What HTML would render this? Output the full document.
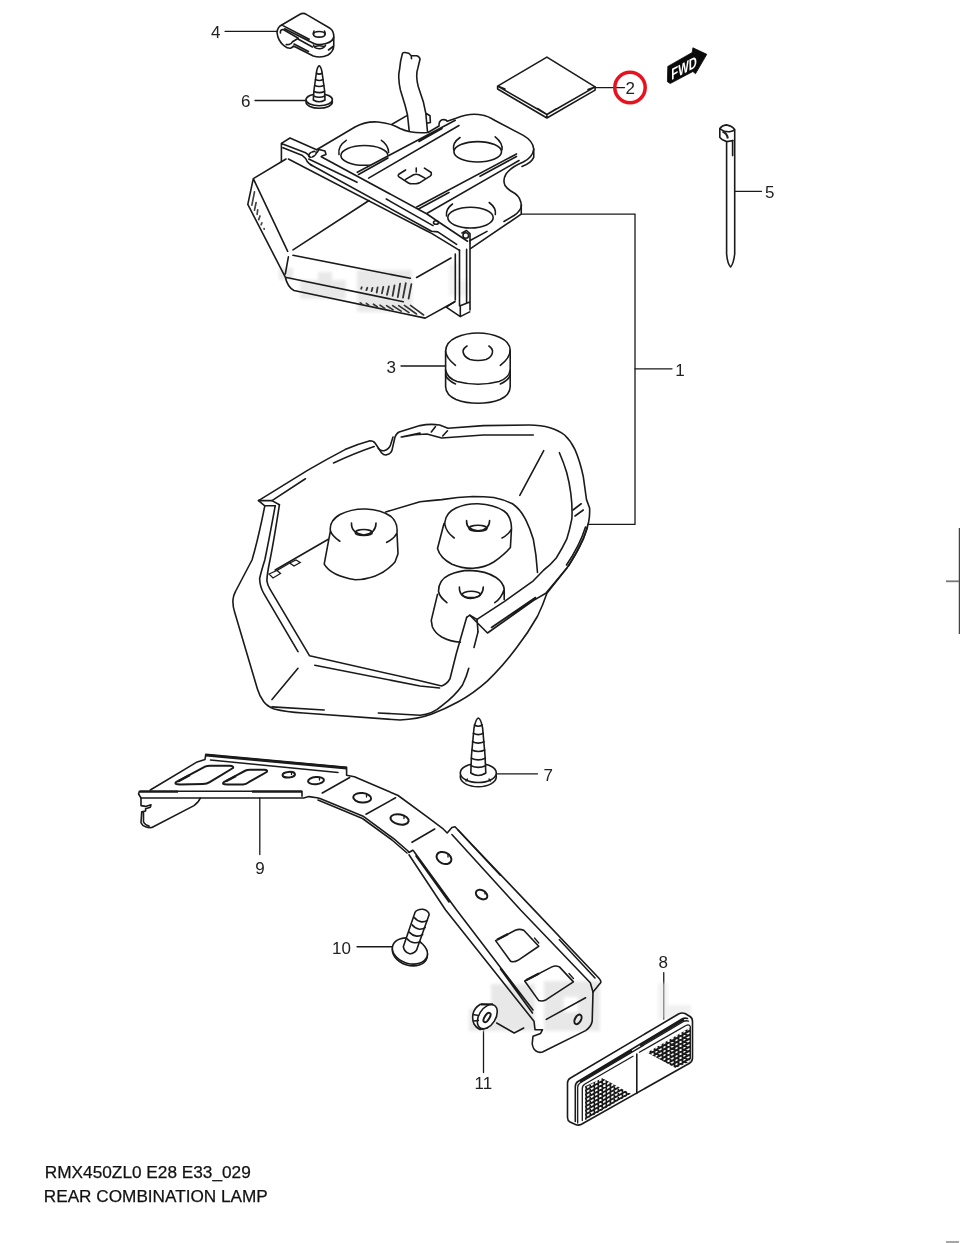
<!DOCTYPE html>
<html><head><meta charset="utf-8">
<style>
html,body{margin:0;padding:0;background:#fff;}
body{width:960px;height:1243px;overflow:hidden;font-family:"Liberation Sans",sans-serif;}
svg{display:block;will-change:transform;opacity:0.999;}
.l{fill:none;stroke:#1a1a1a;stroke-width:1.6;stroke-linecap:round;stroke-linejoin:round;}
.w{fill:#fff;stroke:#1a1a1a;stroke-width:1.6;stroke-linecap:round;stroke-linejoin:round;}
.t{fill:none;stroke:#1a1a1a;stroke-width:1.3;stroke-linecap:round;}
text{font-family:"Liberation Sans",sans-serif;font-size:17px;fill:#222;}
</style></head><body>
<svg width="960" height="1243" viewBox="0 0 960 1243">
<rect width="960" height="1243" fill="#fff"/>
<!-- LABELS -->
<g id="labels" opacity="0.999">
<text x="210.9" y="37.6">4</text>
<text x="241.1" y="106.7">6</text>
<text x="625.5" y="94">2</text>
<text x="765" y="197.6">5</text>
<text x="675.2" y="375.6">1</text>
<text x="386.4" y="372.6">3</text>
<text x="543.6" y="781.4">7</text>
<text x="255.2" y="873.8">9</text>
<text x="332" y="954.4">10</text>
<text x="474.5" y="1088.8">11</text>
<text x="658.4" y="967.6">8</text>
<text x="44.8" y="1177.9" textLength="206" lengthAdjust="spacingAndGlyphs" style="font-size:17.3px;fill:#111;stroke:#111;stroke-width:0.25">RMX450ZL0 E28 E33_029</text>
<text x="43.8" y="1202.4" textLength="224" lengthAdjust="spacingAndGlyphs" style="font-size:17.3px;fill:#111;stroke:#111;stroke-width:0.25">REAR COMBINATION LAMP</text>
</g>
<!-- LEADERS -->
<g id="leaders" class="t">
<path d="M225,31.3H277.5"/>
<path d="M255,100.5H306.5"/>
<path d="M595.5,87.6H624.5"/>
<path d="M735,191.3H761.5"/>
<path d="M522,214.2H635V524.4H588"/>
<path d="M635,368.8H672"/>
<path d="M401,366H445.5"/>
<path d="M496,773.800H537.5"/>
<path d="M259.800,798V854.500"/>
<path d="M357,946.750H392.500"/>
<path d="M483.500,1029.500V1072.500"/>
<path d="M663.750,972.750V1019"/>
</g>
<circle cx="630" cy="87.5" r="15.2" fill="none" stroke="#e8121e" stroke-width="3.5"/>
<!-- 05_watermark.svg -->
<defs><filter id="wb" x="-10%" y="-10%" width="120%" height="120%"><feGaussianBlur stdDeviation="1.6"/></filter></defs>
<g id="wm" fill="#e6e6e6" opacity="0.9" filter="url(#wb)">
<rect x="491" y="984" width="44" height="26"/>
<rect x="469" y="1009" width="66" height="22"/>
<rect x="544" y="981" width="56" height="16"/>
<rect x="544" y="997" width="20" height="34"/>
<rect x="578" y="997" width="22" height="34"/>
<rect x="564" y="1012" width="14" height="19"/>
<rect x="658" y="983" width="10" height="36" opacity="0.6"/>
<rect x="668" y="1005" width="23" height="14" opacity="0.6"/>
<rect x="300" y="280" width="46" height="19"/>
<rect x="279" y="268" width="14" height="12"/>
<rect x="318" y="272" width="14" height="10"/>
<rect x="357" y="270" width="55" height="42"/>
<rect x="449" y="264" width="9" height="32" opacity="0.6"/>
<rect x="458" y="280" width="12" height="16" opacity="0.5"/>
</g>
<!-- 10_lamp.svg -->
<g id="lamp">
<!-- cable -->
<path class="l" d="M402.5,53.3 Q400.2,61 399.600,69.200 Q398.500,74 398.750,77.500 Q399,84 400.400,90 L405,105 L407.500,115 L409.200,130.800 M402.5,53.3 Q403.500,52.200 405,52.500 L408.750,53.300 L411.250,55.800 L411.500,58.750 M411.250,55.800 L416.700,55.800 Q419.500,56.500 420,59.200 L418,67.500 Q416.500,72 416.700,76.700 Q417,82 418.300,86.700 L423.300,101.700 L425.800,113.300 L427.500,131.700 M425.800,113.300 L430,115.800 L430.400,122.500 L427,123.300"/>
<!-- plate outline -->
<path class="l" d="M316.6,149.7 L355,127 Q366,121 378,122 Q392,123.500 400,128.500 Q412,134 428,132.500 L439,126 Q438.800,121 442,119.800 Q446,119 447.200,121.300 L456,118.200 Q470,112.500 482,115 Q488,116 495,120.500 L523.3,135.4 Q533,141 533.75,149 Q533,157 523.3,162 Q511,167 506,174 Q502.5,180 505,185.500 Q508,190 515,193.500 Q521.25,198 521.25,206 V214.2 L470.500,248.600"/>
<path class="l" d="M521.500,205 Q521,211 514,215.500 L504,221.500 M487,231.400 L469.700,240.800 M533.75,149 V157.3 Q531,163 522,166.5"/>
<path class="l" d="M392,124.200 L406.900,115.600"/>
<!-- holes -->
<ellipse class="l" cx="364.4" cy="155.4" rx="23.5" ry="9.9"/>
<path class="l" d="M346.25,140.3 Q337.5,146 339,154.500 M381.4,140.3 Q388.5,145 388.600,152.500"/>
<ellipse class="l" cx="477.700" cy="151.800" rx="23.800" ry="10.200"/>
<path class="l" d="M460,137.500 Q452,143 453.700,150 M495.200,136.800 Q503,143 502,150"/>
<ellipse class="l" cx="470.500" cy="217.600" rx="22.700" ry="10.400"/>
<path class="l" d="M452.500,204 Q445.500,209 446.500,216 M489.200,202.500 Q496.500,208 495.300,214.500"/>
<!-- ribs -->
<path d="M361,169.5 L455.3,120.3 L459,125.5 L368.6,178.1 Z" fill="#fff" stroke="none"/>
<path class="l" d="M357.3,172.3 L455.3,120.3 M368.6,178.1 L459,125.500 M358.5,174.500 L388,158 M419,141.500 L442,128.500"/>
<path d="M416.7,207 L516.5,154 L519,160.5 L427.2,213.3 Z" fill="#fff" stroke="none"/>
<path class="l" d="M416.7,207 L516.500,154 M427.200,213.300 L519,160.500 M418.500,209 L449,192.500 M480,176.300 L516.500,156.500"/>
<!-- socket -->
<path class="l" d="M405.6,170 L398.8,174.3 Q397.5,175.5 399,176.8 L408.5,183 Q410,183.9 412,183.8 L416,183.8 Q418,183.7 419.5,182.8 L430.5,175.8 Q431.8,174.5 431.2,172.5 L424.4,168.1 M405.6,179.4 L413.5,174.8 Q416,173.8 418.75,174.7 L425,178.1 M416.25,168.1 V171.9"/>
<!-- frame -->
<path class="l" d="M290,138 L316.600,149.700 M281.400,143.400 L290,138 M281.400,143.400 V161.400 M281.400,143.400 L305.600,152.800 Q308,154 309.500,156.500 M283,147.800 L302.500,155.600 Q306,158 307.200,161.500 Q309,164 312,165.500"/>
<ellipse class="l" cx="312.500" cy="154.300" rx="4.200" ry="2.300" transform="rotate(-30 312.500 154.300)" stroke-dasharray="2.500 1.500"/>
<path class="l" d="M317,152.500 L319,149.500 L325,151 L326,154.500 L322,156"/>
<path class="l" d="M321.25,156.7 L427,214 L439.4,222.5 L467.5,241.25 M308.75,159 L357,182.3 M386.25,199 L433,225.6 M310.3,164.5 L428.4,229.5 L431.5,231.3 L437.8,231.9 L456.6,244.4 M288.4,159 L426.9,231 L431.6,233.4 L459.5,250.4"/>
<circle class="l" cx="465.800" cy="235.500" r="2.800"/>
<path class="l" d="M462,233 L466.500,230.500 L470,233.500 V243"/>
<ellipse class="l" cx="436" cy="222.500" rx="2.500" ry="1.800"/>
<path class="l" d="M459.500,250 V305.800 M466.600,249.400 V302.500 M470,243 V310 M455.300,254 V300 M446.250,307.200 L460.300,316.600 L469.700,311.900 M460.300,305.800 V316.600 M460.300,305.800 L469.700,302 M446.250,307.200 L454.800,301.700"/>
<!-- lens -->
<path class="l" d="M286,159 L253.300,178.600 L247.800,204.400 L285.300,277.200 Q287.500,287 294,290.500 L425.200,318.100 L454.800,301.700 M253.300,178.600 L287.700,251.400 M288.400,256.900 L285.300,274 M293,249.800 L369,200.500 M293,255.300 L410.300,278.300 M285.300,277.200 L403.300,301.700 M416.600,277.500 L451,258"/>
<!-- hatching -->
<path d="M254.5,191.9 L251.9,205.1 M256.1,202.5 L254.5,210.2 M257.7,209.9 L257.1,214.4 M260,216 L258.7,219.6 M261.9,222.8 L261.2,224.7 M264.1,228.6 L264.2,229.2" fill="none" stroke="#444" stroke-width="1.700" stroke-linecap="round"/>
<path d="M361.2,288.7 L361.7,287.3 M366.4,290.1 L367.3,287.8 M371.6,291.1 L372.5,287.8 M376.7,292.5 L377.6,287.3 M381.9,293.4 L383.3,286.9 M387,294.8 L388.9,286.4 M392.6,295.8 L394.5,285.5 M397.8,297.2 L400.1,283.6 M403,297.6 L405.8,283.1 M408.6,298.6 L411.4,284.1" fill="none" stroke="#333" stroke-width="1.800" stroke-linecap="round"/>
<path d="M360.3,302.8 L361.7,303.7 M366.4,303.3 L368.7,305.1 M373.4,304.2 L377.2,306.6 M380,305.1 L384.7,308.4 M386.6,305.6 L393.1,309.8 M392.6,305.6 L401.1,311.2 M398.7,305.6 L409,312.6 M404.4,305.4 L416.5,314 M410.5,305.4 L423.6,315" fill="none" stroke="#333" stroke-width="1.600" stroke-linecap="round"/>
</g>
<!-- 20_small.svg -->
<g id="pad">
<path class="l" d="M546.900,57.100 L497.600,86.100 V89 L546.900,118 L595.100,90.100 V86.900 Z M497.600,86.100 L546.900,114.500 L595.100,86.900 M546.900,114.500 V118 M497.600,86.100 L505,89 M595.100,86.900 L588,89.5 M546.900,114.500 L537.5,108.5 M546.900,114.500 L556,109"/>
</g>
<g id="fwd">
<path d="M667.800,66.400 L692.200,52.500 L692.900,47.800 L706.800,54.300 L695.500,73.700 L692.900,71.500 L670.300,83.500 L667.400,81.700 Z" fill="#0a0a0a" stroke="#0a0a0a" stroke-width="0.8" stroke-linejoin="round"/>
<text transform="translate(671.3,80.2) skewY(-28)" font-weight="bold" font-size="16" textLength="25.5" lengthAdjust="spacingAndGlyphs" style="fill:#fff;font-size:16px">FWD</text>
</g>
<g id="tie">
<path class="l" d="M726.600,141.600 V254 Q727.500,264 730.600,267 Q733.500,264 734.700,254 V129.600 M726.400,124.900 Q722,125.500 719.800,128.500 V137.400 Q722,140.500 726.900,141.600 L733,140.500 M726.400,124.900 Q732,126 734.700,129.600 M720.500,129 Q724,132 729.500,131.700 Q733,131 734.500,129.800 M732.600,140.500 V155.600"/>
<path d="M722.500,131.500 Q727,133 727.800,138.500" fill="none" stroke="#222" stroke-width="2"/>
</g>
<g id="clip">
<path class="l" d="M281.700,25 L300,14.200 Q303.300,12.300 306.700,14.600 L330,28.300 Q334,31 333.750,37 Q333,41.500 326,43.500 Q318,45.800 313.3,43.3 L284.6,28.75 M282.5,25.4 L309.2,39.2"/>
<path class="l" d="M281.700,25 Q277.500,27 277,32.500 Q277.500,37 279.200,40 Q281.500,44 284.200,45.800 Q287.500,48.500 290.500,48.200 Q292.500,47.500 293.500,46 L313.300,56 Q321,58.500 328,55 Q333.500,51.500 333.750,46 V37 M280.400,33 Q280,29.5 283.300,29.5 L298.300,38.300 L292.500,41.700 Q291.500,44 289,44.500 L286.250,44.600 M297.500,38.800 L312.500,47 M294,44 L308.500,51.500 M328.500,50 L333.750,46"/>
<ellipse class="l" cx="319.200" cy="34.300" rx="5.800" ry="2.800"/>
<path class="l" d="M314,31 Q313,33 313.500,34.500 M324.500,31 Q325.500,33 325,34.500"/>
<path class="l" d="M313.500,45 Q314,48.500 319.200,48.800 Q324.500,48.500 325.500,45 M315,46.500 Q319,45 324,46.500" />
</g>
<g id="screw6">
<ellipse class="w" cx="319.200" cy="102" rx="13.200" ry="6.300"/>
<ellipse class="w" cx="319.200" cy="99.800" rx="13.200" ry="6"/>
<path class="w" d="M313.300,100 L314,90 L316.500,72 Q317.500,66.500 319.200,65.800 Q321,66.500 322,72 L324.500,90 L325,100 Q319.200,103.500 313.300,100 Z"/>
<path class="l" d="M316.500,73.300 Q319.200,75 322,73.300 M315.500,79.500 Q319.200,81.500 323,79.500 M314.800,85.500 Q319.200,87.500 323.800,85.500 M314,91.500 Q319.200,93.800 324.500,91.500 M313.600,96 Q319.200,98.500 324.800,96"/>
</g>
<g id="screw7">
<ellipse class="w" cx="478.300" cy="776.800" rx="18" ry="10"/>
<ellipse class="w" cx="478.300" cy="773" rx="18" ry="9.500"/>
<path class="w" d="M470.800,773 L471.500,755 L474,728 Q476,718.500 478.300,718 Q480.800,718.500 482.600,728 L485,755 L485.800,773 Q478.300,778 470.800,773 Z"/>
<path class="l" d="M474.300,725 Q478.300,727.500 482.300,725 M473.300,733.300 Q478.300,736 483.300,733.300 M472.500,741.700 Q478.300,744.500 484,741.700 M471.800,750 Q478.300,753 484.800,750 M471.300,758.300 Q478.300,761.500 485.300,758.300 M471,765.800 Q478.300,769 485.600,765.800"/>
<path class="t" d="M466,781 l1.500,-2 M490.500,781 l-1.500,-2"/>
</g>
<!-- 30_cover.svg -->
<g id="cover">
<!-- outer contour -->
<path class="l" d="M258.500,500.600 L307.500,470.400 Q327,459 345,449.600 Q358,444 370,440.800 Q373.500,440.800 375.200,443.300 L381.500,452.700 Q384,455.500 386.700,454.800 Q390.500,454 391.900,450.600 L395,437 Q396.500,433 399.200,431.900 L420,425.600 Q430,423.500 439.600,425 L448,428.300 L483.300,425.600 L529.200,425 Q541,425 550,427.700 Q559,430.500 564.600,435 Q571,441 575,449.600 Q580,461 583.300,476.700 L586.500,499.600 L589.600,508 Q590,516 588.500,522.500 Q586.500,531 583.300,539.200 Q578,551 570.800,562 L566.700,568.300 L546.900,593.300 Q543,605 537.500,616.250 Q528,633 516.700,647.500 Q503,666 487.500,680.800 Q474,693 458.300,701.700 Q445,709 431.250,714.200 Q418,719 400,720 L303.300,713 Q286,712 274.200,709 Q267,706 263.750,701.700 Q259.500,696 257.500,689.200 L234.600,612 Q232.500,605 233,599.600 Q233.500,595 235.600,591.250 L252,560 Q258,540 264.800,505.800 L258.500,500.600"/>
<!-- top edge thickness -->
<path class="l" d="M272,500.600 L305.400,478.750 M333.500,463 Q355,453 374.200,446.500 M378.300,448.500 Q381,451.500 384.600,450.600 Q389,449 390.500,445 L393,437 M401.250,437 L420,433 M402,437 Q415,434 427,434 Q434,436 441.700,438 L483.300,435 L533.300,435 M431.300,432 L435.400,426.700 M442.700,436 L447.500,430.800"/>
<path class="l" d="M258.500,500.600 L272,500.600 L279.400,504.800 M264.800,505.800 L275.200,505.800"/>
<!-- left inner lines -->
<path class="l" d="M275.200,505.800 Q269,540 264.800,560 Q261,572 259.600,578.750 Q260,587 263.750,593.300 L298,651.700"/>
<path class="l" d="M279.400,504.800 Q274,540 270,560 Q267,574 266.900,580.800 Q267.500,585 270,589.200 L309.600,655.800 L420,680.800 L441.700,686 Q447,684 450,678.750 L456.250,653.750 L466.700,617.300"/>
<path class="l" d="M314.800,665.200 L420,686 L439.600,688"/>
<path class="l" d="M272,699.600 L298,668.300"/>
<path class="l" d="M272,706.900 L324.200,710 M378.300,713 L420,715.200 Q432,714.500 441.700,705.800 Q455,696 462.500,685 Q466.500,677 468.750,668.300 M474,647.500 L478,631.900"/>
<!-- floor / back wall -->
<path class="l" d="M275.200,570 L328.300,539.200 M385.600,512 L420,501.700 Q431,500.500 441.700,499.600 Q458,497 473,496.500 Q484,496.500 493.750,497.500 Q504,499.500 512.500,503.750 Q520,509 525,518.300 Q530,528 533.300,539.200 Q536.500,555 537.500,572.500"/>
<path class="l" d="M519.800,495.400 L543.750,450.600"/>
<path class="l" d="M559.400,452.700 Q563.500,462 566.700,472.500 Q569.500,483 570.800,493.300 Q572.500,506 571.900,518.300 Q570,529 566.700,539.200 Q562,549 556.250,558 Q550.500,565 543.750,570 Q538,576 533.300,580.800 L504.200,601.700 L477,619.400 L469.800,615.200 L466.700,617.300"/>
<path class="l" d="M469.800,615.200 L487.500,633 L533.300,600.600 L545.800,593.300 L566.700,568.300 M477,619.400 L478,631.900 M491.500,627.500 L535.500,597.500"/>
<path class="l" d="M573,510 L581.200,503.750 M575,516 L583.300,510 M587.500,527 Q582,545 568.500,566 M585.500,527 Q580,545 566.500,565"/>
<path class="t" d="M289.800,563 L296,560 L300.200,562.500 L294,566 Z M269,574 L277,570.500 L280.500,573.500 L273,578 Z M277,570.500 L289.800,563"/>
<!-- cone 1 -->
<path class="l" d="M339.800,541.250 Q332,536 330.400,530.800 Q329,521 340,514.500 Q352,508.500 366,509 Q382,510 391,516.500 Q398,522.500 397,533 Q394,539 386.700,542.300 M330.400,530.800 L324.200,564.200 Q331,576 355.400,579.800 Q380,579 395,562 L398,553.750 L397,533"/>
<path class="l" d="M351.500,523 Q351,533 363.750,535 Q376,533.500 376,523"/>
<ellipse class="l" cx="363.750" cy="532.500" rx="8.500" ry="3"/>
<!-- cone 2 -->
<path class="l" d="M454.200,538 Q446,532 444.800,524 Q445,513 456,508 Q466,503.500 478,503.750 Q494,504.500 504,511 Q511.500,516.500 511.500,528.750 Q509,534.500 502,538 M444,523.500 L437.500,548.500 Q440,558 452,564.200 Q462,568.500 473,568.300 Q485,567.500 493.750,562 Q504,555 510.400,547.500 L511.500,528.750"/>
<path class="l" d="M466.600,520.500 Q466,530 478,530.800 Q489.500,530 489.600,520.500"/>
<ellipse class="l" cx="478" cy="528.300" rx="9" ry="3"/>
<!-- cone 3 -->
<path class="l" d="M446.900,602.700 Q439.500,597 438.500,591.250 Q438.500,580 449,575 Q459,570.500 470,570.400 Q486,571 496,577.500 Q503.500,582.500 504.200,589.200 Q501.500,598 494.800,602.700 M437.500,594.400 L431.250,620.400 L432.300,626.700 Q435,633 441.700,637 Q450,641.500 460.400,642.300 M504.200,589.200 V599.600"/>
<path class="l" d="M459.400,587 Q459,597.500 470.800,598.500 Q483,597.500 483.300,587"/>
<ellipse class="l" cx="471.300" cy="594.400" rx="9" ry="3.200"/>
</g>
<!-- 40_grommet.svg -->
<g id="grommet">
<path class="l" d="M455.500,365.300 Q446,358 445.600,351.250 Q446,342 456,337.500 Q466,333 478,333 Q490,333 500,337.500 Q510,342 510.200,350.200 Q510,358 500.300,365.300"/>
<path class="l" d="M445.600,351.250 V386.700 Q446,395 456,399.500 Q466,403.300 478,403.300 Q490,403.300 500,399.500 Q510,395 510.200,386.700 V350.200"/>
<path class="l" d="M445.600,370 Q447,378 457,381.500 Q467,384.200 478,384.200 Q489,384.200 499,381.500 Q509,378 510.200,370"/>
<path class="l" d="M445.600,375 Q447,380 455.500,384 M510.200,375 Q509,380 500.300,384"/>
<path class="l" d="M467,346 Q462.500,349 463.100,352 Q464,357 470,359.500 Q478,361.500 486,359.500 Q492,357 492.500,352 Q493,349 488.900,346"/>
</g>
<!-- 50_bracket.svg -->
<g id="bracket">
<!-- left plate -->
<path class="l" d="M139.400,791.250 H302 V796.250 M139.400,791.250 L138.600,794 L141,798 H303.600 L309,796.600 L316.900,797.800 L320,798.600 L363.750,816.600 L393.400,838.400 L408,851 L409,852.500 L412.800,850.200"/>
<path class="l" d="M150.300,790 L197.200,761.900 L205,759.500 L205.800,754.400 L346.600,767.300 V775.200 L354.400,776.700 L398.100,795.500 L426.900,816.600 L442.500,828.300 L447.200,833 L451.900,827.500 L455,826.700 L530,905.600 L598.750,978 Q601.500,981 600.600,982.800 L593,992"/>
<path d="M205.800,755.200 L346.600,768.100" fill="none" stroke="#1a1a1a" stroke-width="2.600"/>
<path class="l" d="M210.500,760 L338,772.500"/>
<path d="M140,791.600 H178 M252,791.600 H302" fill="none" stroke="#1a1a1a" stroke-width="2.200"/>
<path class="l" d="M318,800 L362.500,818.500 L392,840 L407,853"/>
<!-- slots -->
<path class="l" style="stroke-width:2" d="M176,782.200 L205,766.600 Q207,765.800 210,765.800 L230,765.800 Q234,766 233,768 L209.700,782.200 Q207,784 203,784 L180,784.500 Q174,784.500 176,782.200 Z"/>
<path class="l" style="stroke-width:2" d="M223.750,782.200 L245.600,770.500 Q247.500,769.700 250,769.700 L264.400,769.700 Q268,770 266.700,772 L248.750,782.200 Q246,784.200 243,784.500 L226.900,784.500 Q221.500,784.500 223.750,782.200 Z"/>
<path d="M178,781.500 L190,775 M226,781.200 L236,776" fill="none" stroke="#1a1a1a" stroke-width="2.400"/>
<!-- tab -->
<path class="l" d="M141,798 V805.600 L145.600,806.400 L151,804.800 L150.300,807.200 L145.600,808.750 V811 L141.700,811.900 L141,822.800 Q142,825.500 145.600,826.700 Q149,828 151.900,827.500 L194,805.600 Q199,802 200.300,798 M143.500,812 V822 Q145,825 149,826"/>
<!-- holes -->
<ellipse class="l" style="stroke-width:2" cx="288.750" cy="774.700" rx="6.200" ry="2.800" transform="rotate(-4 288.750 774.700)"/>
<ellipse class="l" style="stroke-width:2" cx="316" cy="780.600" rx="8" ry="3.600" transform="rotate(-5 316 780.600)"/>
<ellipse class="l" style="stroke-width:2" cx="362.200" cy="797.800" rx="9" ry="4.700" transform="rotate(5 362.200 797.800)"/>
<ellipse class="l" style="stroke-width:2" cx="399.600" cy="819.400" rx="9.200" ry="5" transform="rotate(12 399.600 819.400)"/>
<ellipse class="l" style="stroke-width:2" cx="444" cy="858" rx="7.800" ry="5.600" transform="rotate(25 444 858)"/>
<ellipse class="l" style="stroke-width:2" cx="481.600" cy="894.600" rx="6.200" ry="4.200" transform="rotate(30 481.600 894.600)"/>
<path class="t" d="M291.500,772 V774.500 M319.500,777.500 V780 M366.500,794 V797 M404,815.500 V818.500 M448,854 V857 M485,891.500 V894"/>
<!-- fold lines -->
<path class="l" d="M322.300,793 L349.700,777.500 M366,814.200 L395.600,797.800 M412,842.300 L434.700,829"/>
<!-- lower arm flanges -->
<path class="l" d="M451.900,834.500 L520.600,910 L590.300,982.800 L593,992 M458,830 L500.300,875.200 M559.400,939.700 L595,978"/>
<path class="l" d="M409,854.800 L445.600,910 L534,1021.250 L535,1029.700 L542.500,1029.700 L540.600,1033.400 L533,1036.250 L532.200,1043.750 Q533,1049 536,1051 Q539,1053 542.500,1052 L585.600,1030.600 Q591,1027 592.200,1021.250 L593,992"/>
<path class="l" d="M413.600,851 L456.600,910 L533,1010 M416,856 L449,902 M500.500,969 L532.500,1013"/>
<!-- square holes -->
<path class="l" d="M495.600,940.600 L515.300,930.300 Q519.500,928.500 523.750,930.300 L538.750,946.250 L518,960.300 Q514,962.500 510.600,961.250 Z"/>
<path class="l" d="M524.700,981 L551.900,966.900 Q555.500,965 559.400,966.900 L573.400,981.900 L546.250,999.700 Q542,1001.800 538.750,1000.600 Z"/>
<path d="M497,939.800 L508,934 M526,980.200 L539,973.500" fill="none" stroke="#1a1a1a" stroke-width="2.400"/>
<path class="t" d="M534.500,938 L538.750,943 M569,973.500 L573.400,978.500"/>
<path class="l" d="M546.250,1019.400 L585.600,997.800"/>
<ellipse class="l" style="stroke-width:2" cx="578" cy="1019.400" rx="3" ry="5.200" transform="rotate(28 578 1019.400)"/>
<!-- wire -->
<path class="l" d="M496.700,1023 L514.200,1033 L523.750,1028"/>
</g>
<g id="nut">
<path class="w" d="M480.400,1004.200 Q474,1008 473,1014.200 Q472,1019.500 474,1024 Q476,1027.500 480,1029.500 L487,1028 L492,1005 Z"/>
<ellipse class="w" cx="487.300" cy="1016.700" rx="13.300" ry="8.300" transform="rotate(-58 487.300 1016.700)"/>
<path d="M481,1004.300 L493,1004.300" fill="none" stroke="#1a1a1a" stroke-width="2"/>
<path class="t" d="M473,1014.500 L478.500,1015.500 M473.500,1021 L478.500,1020.500"/>
<ellipse cx="487" cy="1017.500" rx="5.300" ry="2.400" transform="rotate(-58 487 1017.500)" fill="none" stroke="#1a1a1a" stroke-width="2"/>
</g>
<g id="bolt10">
<ellipse class="w" cx="409.900" cy="952.500" rx="18" ry="12.800" transform="rotate(18 409.900 952.500)"/>
<ellipse class="w" cx="409.900" cy="951" rx="18" ry="12.500" transform="rotate(18 409.900 951)"/>
<path class="w" d="M403.300,946.700 L415,912.400 Q417,909 423,909.300 Q428.500,910.500 429.200,914.600 L416.500,950.300 Q413,954.500 409.200,953.600 Q404.500,952 403.300,946.700 Z"/>
<path class="l" d="M414.300,917.500 Q417,921 421.600,921.900 Q425,922 427.400,920.400 M412.100,924.800 Q414.500,928.300 419.400,929.200 Q423,929.300 425.200,927.700 M409.200,932.100 Q412,935.300 416.500,936.100 Q420,936.400 422.700,934.600 M407,938.700 Q409.500,942 414.300,942.700 Q418,943 420.100,941.600"/>
</g>
<!-- 60_reflector.svg -->
<g id="reflector">
<defs>
<clipPath id="rg1"><path d="M585,1086.2 L602.5,1078.3 L630.8,1093.8 L585,1120.3 Z"/></clipPath>
<clipPath id="rg2"><path d="M647.2,1052.4 L689.4,1028 L690.2,1028.5 L690.2,1061.5 L675.5,1068 Z"/></clipPath>
</defs>
<path class="w" d="M567.500,1083 Q567.500,1079.700 570.500,1078 L678.500,1014 Q681.600,1012.200 685,1013.500 L690,1016.500 Q692.500,1018 692.500,1021.500 V1058 Q692.500,1061.500 689.500,1063.200 L581.500,1124.300 Q578.400,1125.800 575.500,1124.500 L570,1122 Q567.500,1120.500 567.500,1117.500 Z"/>
<path class="l" d="M575.300,1121.500 V1086.500 Q575.300,1083.300 578,1081.500 L682,1019 Q684.700,1017.500 687.500,1018.500"/>
<path class="t" d="M577.700,1123 V1087.500 Q577.700,1084.500 580,1083 L683.500,1021.500 Q686,1020.200 688.500,1021.200"/>
<path d="M580,1081.500 L632,1050.500 M640,1045.500 L684,1019.500" fill="none" stroke="#1a1a1a" stroke-width="2.200"/>
<path class="t" d="M582.300,1120.500 V1088.500 Q582.300,1085.500 585,1084 L633,1056.250 M639.400,1052.300 L686,1025.500 Q689,1024 690.300,1026.500 V1058.500"/>
<path class="l" d="M636.800,1054 V1093.5"/>
<g clip-path="url(#rg1)"><path d="M586.3,1020V1125M590.3,1020V1125M594.3,1020V1125M598.3,1020V1125M602.3,1020V1125M606.3,1020V1125M610.4,1020V1125M614.4,1020V1125M618.4,1020V1125M622.4,1020V1125M626.4,1020V1125M630.4,1020V1125M634.4,1020V1125M638.4,1020V1125M642.4,1020V1125M646.4,1020V1125M650.5,1020V1125M654.5,1020V1125M658.5,1020V1125M662.5,1020V1125M666.5,1020V1125M670.5,1020V1125M674.5,1020V1125M678.5,1020V1125M682.5,1020V1125M686.5,1020V1125M690.6,1020V1125M580,1049.6L694,984.1M580,1053.6L694,988.1M580,1057.6L694,992.1M580,1061.6L694,996.1M580,1065.6L694,1000.1M580,1069.6L694,1004.1M580,1073.6L694,1008.1M580,1077.6L694,1012.1M580,1081.6L694,1016.1M580,1085.6L694,1020.1M580,1089.6L694,1024.1M580,1093.6L694,1028.1M580,1097.6L694,1032.1M580,1101.6L694,1036.1M580,1105.6L694,1040.1M580,1109.6L694,1044.1M580,1113.6L694,1048.1M580,1117.6L694,1052.1M580,1121.6L694,1056.1M580,1125.6L694,1060.1M580,1129.6L694,1064.1M580,1133.6L694,1068.1M580,1137.6L694,1072.1M580,1141.6L694,1076.1M580,1145.6L694,1080.1M580,1149.6L694,1084.1M580,1153.6L694,1088.1M580,1157.6L694,1092.1M580,1161.6L694,1096.1M580,1165.6L694,1100.1M580,1169.6L694,1104.1M580,1173.6L694,1108.1M580,1177.6L694,1112.1M580,1181.6L694,1116.1M580,1185.6L694,1120.1M580,1189.6L694,1124.1" fill="none" stroke="#1a1a1a" stroke-width="1.650"/></g>
<g clip-path="url(#rg2)"><path d="M586.3,1020V1125M590.3,1020V1125M594.3,1020V1125M598.3,1020V1125M602.3,1020V1125M606.3,1020V1125M610.4,1020V1125M614.4,1020V1125M618.4,1020V1125M622.4,1020V1125M626.4,1020V1125M630.4,1020V1125M634.4,1020V1125M638.4,1020V1125M642.4,1020V1125M646.4,1020V1125M650.5,1020V1125M654.5,1020V1125M658.5,1020V1125M662.5,1020V1125M666.5,1020V1125M670.5,1020V1125M674.5,1020V1125M678.5,1020V1125M682.5,1020V1125M686.5,1020V1125M690.6,1020V1125M580,1049.6L694,984.1M580,1053.6L694,988.1M580,1057.6L694,992.1M580,1061.6L694,996.1M580,1065.6L694,1000.1M580,1069.6L694,1004.1M580,1073.6L694,1008.1M580,1077.6L694,1012.1M580,1081.6L694,1016.1M580,1085.6L694,1020.1M580,1089.6L694,1024.1M580,1093.6L694,1028.1M580,1097.6L694,1032.1M580,1101.6L694,1036.1M580,1105.6L694,1040.1M580,1109.6L694,1044.1M580,1113.6L694,1048.1M580,1117.6L694,1052.1M580,1121.6L694,1056.1M580,1125.6L694,1060.1M580,1129.6L694,1064.1M580,1133.6L694,1068.1M580,1137.6L694,1072.1M580,1141.6L694,1076.1M580,1145.6L694,1080.1M580,1149.6L694,1084.1M580,1153.6L694,1088.1M580,1157.6L694,1092.1M580,1161.6L694,1096.1M580,1165.6L694,1100.1M580,1169.6L694,1104.1M580,1173.6L694,1108.1M580,1177.6L694,1112.1M580,1181.6L694,1116.1M580,1185.6L694,1120.1M580,1189.6L694,1124.1" fill="none" stroke="#1a1a1a" stroke-width="1.900"/></g>
</g>
<!-- 70_edge.svg -->
<g id="edge">
<path d="M959.400,528 V634" fill="none" stroke="#444" stroke-width="1.300"/>
<path d="M946,581.300 H959" fill="none" stroke="#777" stroke-width="1.800"/>
<path d="M946,1242 H959" fill="none" stroke="#888" stroke-width="1.500"/>
</g>

</svg>
</body></html>
